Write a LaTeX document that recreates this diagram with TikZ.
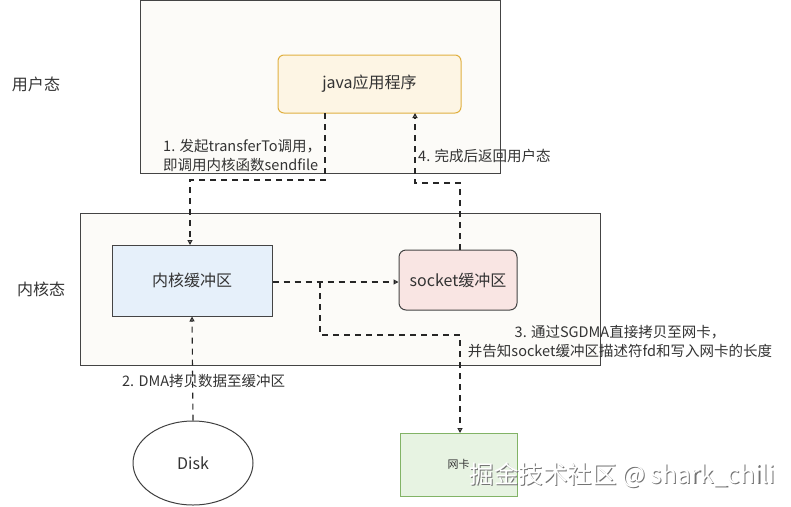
\documentclass[tikz,border=0pt]{standalone}
\usepackage{fontspec}
\setmainfont{Noto Sans CJK SC}
\usetikzlibrary{arrows.meta,shapes.geometric,calc}
\definecolor{javafill}{HTML}{FDF5E4}
\definecolor{javaline}{HTML}{E0B040}
\definecolor{kbfill}{HTML}{E6F0FA}
\definecolor{sockfill}{HTML}{F9E5E3}
\definecolor{nicfill}{HTML}{E7F3E2}
\definecolor{nicline}{HTML}{82B366}
\definecolor{regionfill}{HTML}{FCFBF8}
\definecolor{edgegray}{HTML}{444444}
\definecolor{txt}{HTML}{333333}
\tikzset{
  region/.style={draw=edgegray, line width=0.9pt, fill=regionfill},
  boxbase/.style={draw=edgegray, line width=1pt, align=center, font=\fontsize{16}{19}\selectfont, text=txt},
  flow/.style={dashed, dash pattern=on 6pt off 5pt, line width=1.1pt, black!85, -{Triangle[open,length=5pt,width=5pt]}},
  lbl/.style={font=\fontsize{14.5}{19}\selectfont, text=txt, inner sep=1pt},
  wmark/.style={font=\fontsize{24.5}{27}\selectfont, anchor=west},
}
\begin{document}
\begin{tikzpicture}[x=1pt,y=-1pt]
\useasboundingbox (0,0) rectangle (791,506);
% regions
\draw[region] (140,0.5) rectangle (500,173);
\draw[region] (80,213) rectangle (600,365);
\node[lbl, font=\fontsize{16}{19}\selectfont] (user) at (36,84) {用户态};
\node[lbl, font=\fontsize{16}{19}\selectfont] (kernel) at (41,289) {内核态};
% boxes
\node[boxbase, draw=javaline, fill=javafill, rounded corners=6pt, minimum width=183pt, minimum height=58pt] (java) at (369.5,84) {java应用程序};
\node[boxbase, fill=kbfill, minimum width=160pt, minimum height=71pt] (kbuf) at (192,280.5) {内核缓冲区};
\node[boxbase, fill=sockfill, rounded corners=7pt, minimum width=118pt, minimum height=60pt] (sock) at (458,280) {socket缓冲区};
\node[boxbase, draw=black!75, ellipse, fill=white, minimum width=120pt, minimum height=84pt] (disk) at (193,463) {Disk};
\node[boxbase, draw=nicline, fill=nicfill, minimum width=117pt, minimum height=63pt, font=\fontsize{11}{13}\selectfont] (nic) at (458.5,464.5) {网卡};
% coordinates
\coordinate (j1) at (325,113);
\coordinate (c1a) at (325,180);
\coordinate (c1b) at (190,180);
\coordinate (k1) at (190,245);
\coordinate (s4) at (460,250);
\coordinate (c4a) at (460,183);
\coordinate (c4b) at (415,183);
\coordinate (j4) at (415,113);
\coordinate (br) at (320,282);
\coordinate (c3a) at (320,335);
\coordinate (c3b) at (460,335);
\coordinate (n3) at (460,433);
% connectors
\draw[flow] (j1) -- (c1a) -- (c1b) -- (k1);
\draw[flow] (disk.north) -- (kbuf.south);
\draw[flow] (kbuf.east |- br) -- (sock.west |- br);
\draw[flow] (br) -- (c3a) -- (c3b) -- (n3);
\draw[flow] (s4) -- (c4a) -- (c4b) -- (j4);
% labels
\node[lbl, align=left, anchor=west] (l1) at (162,155) {1. 发起transferTo调用，\\即调用内核函数sendfile};
\node[lbl, anchor=west] (l2) at (121,381) {2. DMA拷贝数据至缓冲区};
\node[lbl, align=center] (l3) at (620,341.5) {3. 通过SGDMA直接拷贝至网卡，\\并告知socket缓冲区描述符fd和写入网卡的长度};
\node[lbl, anchor=west] (l4) at (417,156) {4. 完成后返回用户态};
% watermark
\node[wmark, text=black!55] (wms) at (467.2,476.2) {掘金技术社区 @ shark\_chili};
\node[wmark, text=white] (wm) at (466,475) {掘金技术社区 @ shark\_chili};
\end{tikzpicture}
\end{document}
